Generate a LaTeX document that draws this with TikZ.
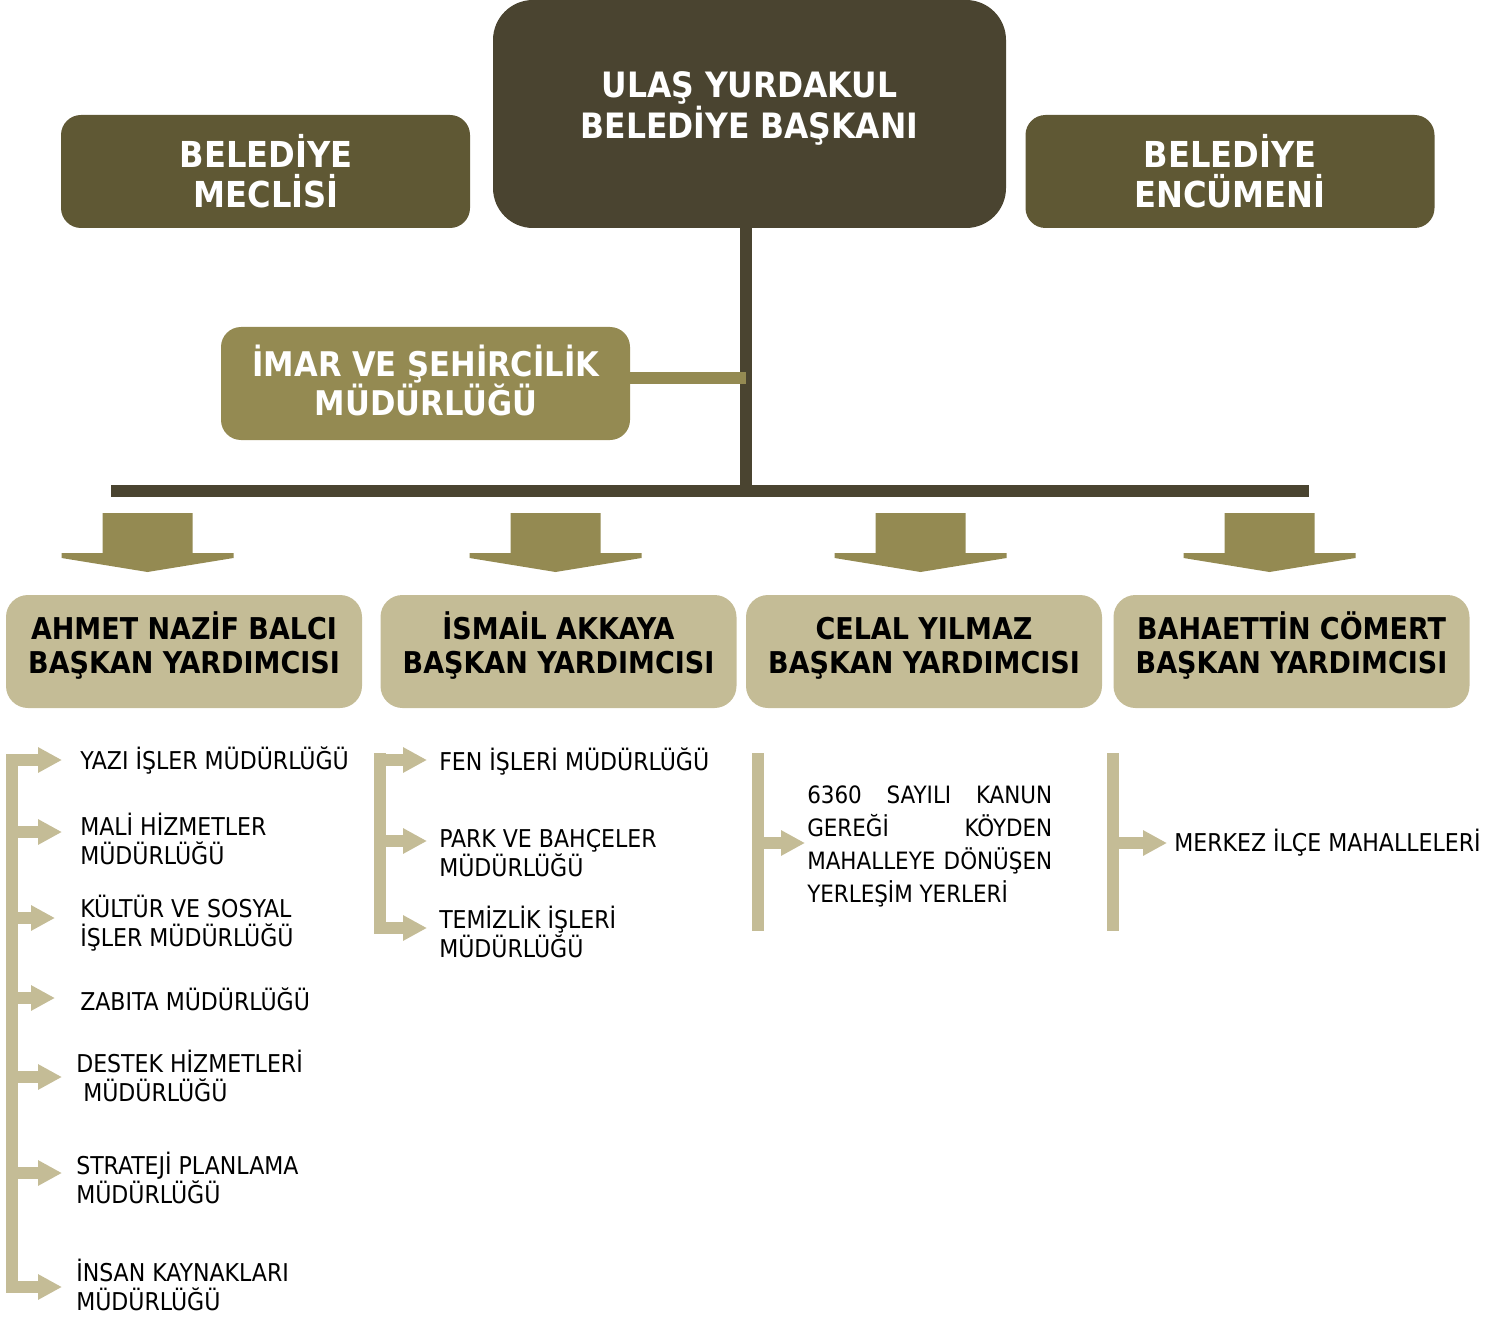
\documentclass[tikz,border=0pt]{standalone}
\usepackage{fontspec}
\setmainfont{DejaVu Sans Condensed}
\usetikzlibrary{arrows.meta}
\definecolor{cdark}{HTML}{4A4430}
\definecolor{cmid}{HTML}{5F5834}
\definecolor{colive}{HTML}{948A52}
\definecolor{clight}{HTML}{C4BC96}
\begin{document}
\begin{tikzpicture}[x=0.75pt,y=-0.75pt,
  pbox/.style={inner sep=0pt, draw=none},
  htext/.style={inner sep=0pt, align=center},
  btext/.style={inner sep=0pt, anchor=west, align=left, font=\fontsize{18.4}{21.75}\selectfont},
  lbar/.style={line width=9pt, draw=clight},
  barrow/.style={line width=9pt, draw=clight, -{Triangle[length=18pt,width=18pt,fill=clight]}},
  darrow/.style={fill=colive}]
\useasboundingbox (0,0) rectangle (1512,1319);

% top row
\node[pbox, fill=cdark, minimum width=513*0.75pt, minimum height=228*0.75pt, rounded corners=30pt] (mayor) at (749.5,114) {};
\node[htext, text=white, font=\bfseries\fontsize{26.2}{31}\selectfont] (mayort) at (749.5,108.5) {ULAŞ YURDAKUL\\BELEDİYE BAŞKANI};

\node[pbox, fill=cmid, minimum width=409*0.75pt, minimum height=113*0.75pt, rounded corners=15pt] (meclis) at (265.5,171.5) {};
\node[htext, text=white, font=\bfseries\fontsize{26.8}{30}\selectfont] (meclist) at (266,171) {BELEDİYE\\MECLİSİ};

\node[pbox, fill=cmid, minimum width=409*0.75pt, minimum height=113*0.75pt, rounded corners=15pt] (encumen) at (1230,171.5) {};
\node[htext, text=white, font=\bfseries\fontsize{26.8}{30}\selectfont] (encument) at (1230,171) {BELEDİYE\\ENCÜMENİ};

% trunk
\coordinate (junction) at (746,491);
\coordinate (barL) at (111,491);
\coordinate (barR) at (1309,491);
\draw[line width=9pt, cdark] (mayor.south -| junction) -- (junction);
\draw[line width=9pt, cdark] (barL) -- (barR);

% imar
\node[pbox, fill=colive, minimum width=409*0.75pt, minimum height=113*0.75pt, rounded corners=15pt] (imar) at (425.5,383.5) {};
\node[htext, text=white, font=\bfseries\fontsize{25.5}{29}\selectfont] (imart) at (426,380.5) {İMAR VE ŞEHİRCİLİK\\MÜDÜRLÜĞÜ};
\draw[line width=9pt, colive] ([yshift=4pt]imar.east) -- ([yshift=4pt]imar.east -| junction);

% down arrows
\foreach \cx in {147.5,555.5,920.5,1269.5}{
  \fill[darrow] (\cx-45,513) -- (\cx+45,513) -- (\cx+45,553) -- (\cx+86,553) -- (\cx+86,558)
    -- (\cx,572) -- (\cx-86,558) -- (\cx-86,553) -- (\cx-45,553) -- cycle;
}

% vice mayors
\foreach \n/\cx/\t in {vp1/184/{AHMET NAZİF BALCI}, vp2/558.5/{İSMAİL AKKAYA}, vp3/924/{\vphantom{İ}CELAL YILMAZ}, vp4/1291.5/{BAHAETTİN CÖMERT}}{
  \node[pbox, fill=clight, minimum width=356*0.75pt, minimum height=113*0.75pt, rounded corners=16.5pt] (\n) at (\cx,651.5) {};
  \node[htext, text=black, font=\bfseries\fontsize{22.5}{25.5}\selectfont] (\n t) at (\cx,646) {\t\\BAŞKAN YARDIMCISI};
}

% column 1
\coordinate (c1top) at (12,754);
\coordinate (c1bot) at (12,1293);
\draw[lbar] (c1top) -- (c1bot);
\foreach \y/\tx in {760/62, 832/62, 918/55, 998/55, 1077/62, 1173/62, 1287/62}
  \draw[barrow] (12,\y) -- (\tx,\y);
\node[btext] (a1) at (80,760.5) {YAZI İŞLER MÜDÜRLÜĞÜ};
\node[btext] (a2) at (80,838.5) {MALİ HİZMETLER\\MÜDÜRLÜĞÜ};
\node[btext] (a3) at (80,923) {KÜLTÜR VE SOSYAL\\İŞLER MÜDÜRLÜĞÜ};
\node[btext] (a4) at (80,999) {ZABITA MÜDÜRLÜĞÜ};
\node[btext] (a5) at (76,1076) {DESTEK HİZMETLERİ\\\ MÜDÜRLÜĞÜ};
\node[btext] (a6) at (76,1178) {STRATEJİ PLANLAMA\\MÜDÜRLÜĞÜ};
\node[btext] (a7) at (76,1285) {İNSAN KAYNAKLARI\\MÜDÜRLÜĞÜ};

% column 2
\coordinate (c2top) at (380,753);
\coordinate (c2bot) at (380,934);
\draw[lbar] (c2top) -- (c2bot);
\foreach \y in {760, 841, 928}
  \draw[barrow] (380,\y) -- (427,\y);
\node[btext] (b1) at (439,761) {FEN İŞLERİ MÜDÜRLÜĞÜ};
\node[btext] (b2) at (439,853) {PARK VE BAHÇELER\\MÜDÜRLÜĞÜ};
\node[btext] (b3) at (439,932) {TEMİZLİK İŞLERİ\\MÜDÜRLÜĞÜ};

% column 3
\coordinate (c3top) at (757.5,753);
\coordinate (c3bot) at (757.5,931);
\draw[lbar] (c3top) -- (c3bot);
\draw[barrow] (757.5,843) -- (805,843);
\node[btext, font=\fontsize{17.9}{24.75}\selectfont] (c1) at (807,846.5) {\makebox[183.75pt][s]{6360 SAYILI KANUN}\\\makebox[183.75pt][s]{GEREĞİ KÖYDEN}\\\makebox[183.75pt][s]{MAHALLEYE DÖNÜŞEN}\\YERLEŞİM YERLERİ};

% column 4
\coordinate (c4top) at (1113,753);
\coordinate (c4bot) at (1113,931);
\draw[lbar] (c4top) -- (c4bot);
\draw[barrow] (1113,843) -- (1167,843);
\node[btext] (d1) at (1174,843) {MERKEZ İLÇE MAHALLELERİ};
\end{tikzpicture}
\end{document}
